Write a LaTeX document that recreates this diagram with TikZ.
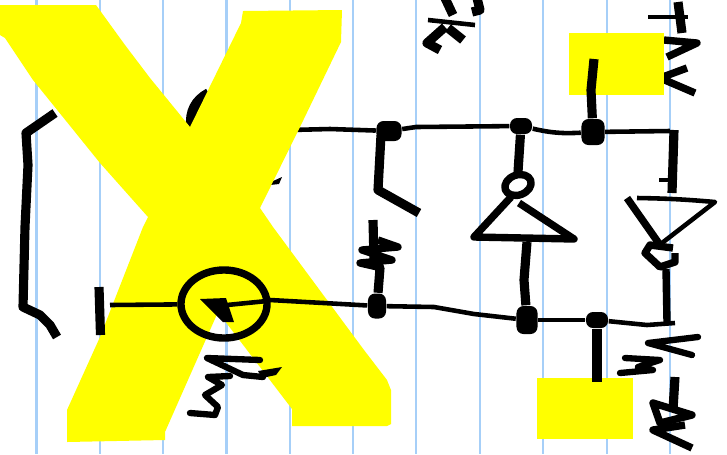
\documentclass[tikz,border=0pt]{standalone}
\usepackage{tikz}
\usetikzlibrary{shapes.geometric}
\definecolor{ruling}{RGB}{166,207,248}
\definecolor{marker}{RGB}{255,255,0}
\tikzset{
  thinpen/.style={line width=1.3pt, line join=round},
  letterpen/.style={line width=1.8pt, line join=round, line cap=round},
  midpen/.style={line width=2.1pt, line join=round},
  fatpen/.style={line width=2.6pt, line join=round},
  blob/.style 2 args={rectangle, rounded corners=2pt, fill=black, inner sep=0pt, minimum width=#1cm, minimum height=#2cm},
}
\begin{document}
\begin{tikzpicture}[x=.01cm,y=-.01cm]
\useasboundingbox (0,0) rectangle (727,454);
\fill[white] (0,0) rectangle (727,454);
\foreach \xline in {36.5,100,163,226.5,290,353,416,480,543,607,670}
  \draw[ruling, line width=.8pt] (\xline,0) -- (\xline,454);

\coordinate (wireend) at (290,130);
\node (dottop) [blob={.25}{.2}] at (389,131) {};
\node (dotmid) [blob={.22}{.16}] at (521,126) {};
\node (dotsup) [blob={.23}{.26}] at (593,132) {};
\node (dotlow) [blob={.18}{.25}] at (377,306) {};
\node (dotinv) [blob={.21}{.28}] at (527,320) {};
\node (dotgnd) [blob={.22}{.16}] at (597,320) {};
\coordinate (stemtop) at (381,135);

\draw[fatpen] (55,113) -- (26,133) -- (28,165) -- (25,227) -- (23,307) -- (40,315) -- (50,325) -- (57,337);
\fill (208,92) to[bend right=30] (190,127) -- (205,125) -- cycle;
\draw[midpen] (190,127) to[bend left=35] (208,92);
\fill (262,186) -- (282,177) -- (279,184) -- (270,185) -- cycle;
\draw[thinpen] (wireend) -- (330,129) -- (dottop);
\draw[midpen] (664,40) -- (697,43) -- (667,57);
\draw[midpen] (687,68) -- (660,78) -- (695,93);

\fill[marker] (0,5) -- (96,5) -- (125,45) -- (150,78) -- (190,127) -- (241,23) -- (243,11) -- (342,10)
  -- (341,42) -- (300,127) -- (260,208) -- (273,227) -- (364,350) -- (387,380) -- (391,390) -- (391,424)
  -- (387,426) -- (292,426) -- (292,409) -- (218,312) -- (165,432) -- (165,440) -- (67,442) -- (67,410)
  -- (100,337) -- (143,227) -- (148,217) -- (100,163) -- (33,80) -- (5,38) -- (0,35) -- cycle;
\fill[marker] (569,33) rectangle (664,95);
\fill[marker] (537,378) rectangle (633,439);

\draw[fatpen] (99,287) -- (100.5,335);
\node (meter) [ellipse, draw, midpen, inner sep=0pt, minimum width=.86cm, minimum height=.68cm] at (224,304) {};
\coordinate (barpin) at (110,305);
\draw[thinpen] (barpin) -- (meter);
\draw[thinpen] (meter) -- (270,300) -- (dotlow);
\draw[thinpen] (227,305) -- (267,301);
\fill (200,299) -- (226,298) -- (234,322) -- (223,322) -- cycle;

\draw[thinpen] (dottop) -- (416,127) -- (dotmid);
\draw[thinpen] (dotmid) to[bend right=8] (dotsup);
\draw[thinpen] (dotsup) -- (670,131);
\draw[fatpen] (674,130) -- (672,193);
\draw[thinpen] (659,180) -- (672,180);
\draw[fatpen] (stemtop) -- (378,190) -- (419,213);
\draw[fatpen] (dotmid) -- (518,172);
\draw[fatpen] (594,59) -- (591,90) -- (dotsup);

\node (bubbleup) [ellipse, draw, midpen, rotate=20, inner sep=0pt, minimum width=.27cm, minimum height=.2cm] at (518,185) {};
\draw[midpen] (511,197) -- (474,237) -- (574,239) -- (519,203);
\draw[fatpen] (527,242) -- (524,280) -- (dotinv);

\draw[thinpen] (637,198) to[bend left=2] (715,202) -- (662,243);
\draw[midpen] (627,198) -- (660,245);
\draw[midpen] (673,248) -- (650,245) -- (645,253) -- (660,267) -- (675,262) -- (675,253);
\draw[midpen] (666,269) -- (667,322);

\draw[thinpen] (dotlow) -- (434,307) -- (474,314) -- (dotinv);
\draw[thinpen] (dotinv) -- (dotgnd);
\draw[thinpen] (dotgnd) -- (647,325) -- (675,323);
\draw[fatpen] (dotgnd) -- (597,382);

\draw[fatpen] (373,220) -- (374,260) -- (380,268) -- (dotlow);
\draw[midpen] (378,240) -- (398,247) -- (362,250) -- (392,260) -- (360,263) -- (382,268);

\draw[fatpen] (445,-2) -- (453,15);
\draw[fatpen] (472,12) -- (480,10) -- (477,-2);
\draw[thinpen] (428,20) -- (475,25);
\draw[fatpen] (445,27) -- (427,43) -- (440,50);
\draw[fatpen] (448,28) -- (463,40);

\draw[fatpen] (678,2) -- (682,33);
\draw[thinpen] (648,17) -- (688,17);

\draw[letterpen] (698,337) -- (648,343) -- (692,355);
\draw[letterpen] (625,358) -- (660,360) -- (638,367) -- (653,370) -- (620,373);
\draw[fatpen] (675,377) -- (673,410);
\draw[midpen] (653,403) -- (660,423) -- (692,415) -- cycle;
\draw[midpen] (685,425) -- (653,430) -- (692,448);

\draw[letterpen] (260,360) -- (207,358) -- (243,375) -- (263,377);
\fill (258,371) -- (282,367) -- (276,375) -- (262,378) -- cycle;
\draw[letterpen] (230,376) -- (208,377) -- (222,385) -- (205,395) -- (218,407) -- (215,415) -- (190,413);
\end{tikzpicture}
\end{document}
